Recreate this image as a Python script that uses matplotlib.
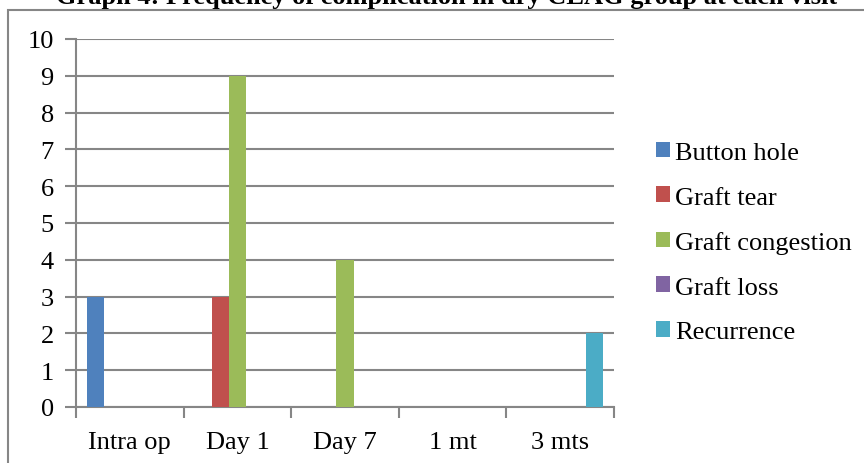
import matplotlib.pyplot as plt
import numpy as np
from matplotlib.patches import Rectangle

visits = ["Intra op", "Day 1", "Day 7", "1 mt", "3 mts"]
series = ["Button hole", "Graft tear", "Graft congestion", "Graft loss", "Recurrence"]
button_hole = [3, 0, 0, 0, 0]
graft_tear = [0, 3, 0, 0, 0]
graft_congestion = [0, 9, 4, 0, 0]
graft_loss = [0, 0, 0, 0, 0]
recurrence = [0, 0, 0, 0, 2]
colors = ["#4f81bd", "#c0504d", "#9bbb59", "#8064a2", "#4bacc6"]

plt.rcParams['font.family'] = ['Liberation Serif', 'DejaVu Serif']

fig = plt.figure(figsize=(8.64, 4.64), dpi=100)
ax = fig.add_axes([76 / 864, 1 - 408 / 464, (614 - 76) / 864, (408 - 40) / 464])

values = [button_hole, graft_tear, graft_congestion, graft_loss, recurrence]
x = np.arange(len(visits))
w = 0.158
for i, (name, vals) in enumerate(zip(series, values)):
    ax.bar(x + (i - 2) * w, vals, w, color=colors[i], label=name, zorder=3)

ax.set_xlim(-0.5, len(visits) - 0.5)
ax.set_ylim(0, 10)
ax.set_yticks(range(0, 11))
ax.yaxis.grid(True, color="#868686", linewidth=1.5, zorder=0)
ax.set_xticks(x)
ax.set_xticklabels(visits)
ax.set_xticks(np.arange(-0.5, len(visits)), minor=True)
ax.tick_params(axis='x', which='major', length=0, pad=17, labelsize=19)
ax.tick_params(axis='x', which='minor', length=8, width=1.5, color="#868686")
ax.tick_params(axis='y', length=8, width=1.5, color="#868686", pad=8, labelsize=19)
for s in ['top', 'right']:
    ax.spines[s].set_visible(False)
ax.spines['left'].set_color("#868686")
ax.spines['left'].set_linewidth(1.5)
ax.spines['bottom'].set_color("#868686")
ax.spines['bottom'].set_linewidth(1.5)

leg = ax.legend(loc='center left', bbox_to_anchor=(1.078, 0.447), frameon=False,
                fontsize=19, handlelength=0.53, handleheight=0.53, handletextpad=0.2,
                labelspacing=0.85, borderpad=0, borderaxespad=0)

fig.text(0.517, 1 - 4 / 464, "Graph 4: Frequency of complication in dry CLAG group at each visit",
         ha='center', va='baseline', fontsize=19, fontweight='bold')

fig.patches.append(Rectangle((8 / 864, -0.05), 1.0, 1 - 11 / 464 + 0.05,
                             transform=fig.transFigure, fill=False,
                             edgecolor="#868686", linewidth=1.5))

fig.savefig("out.png", dpi=100)
